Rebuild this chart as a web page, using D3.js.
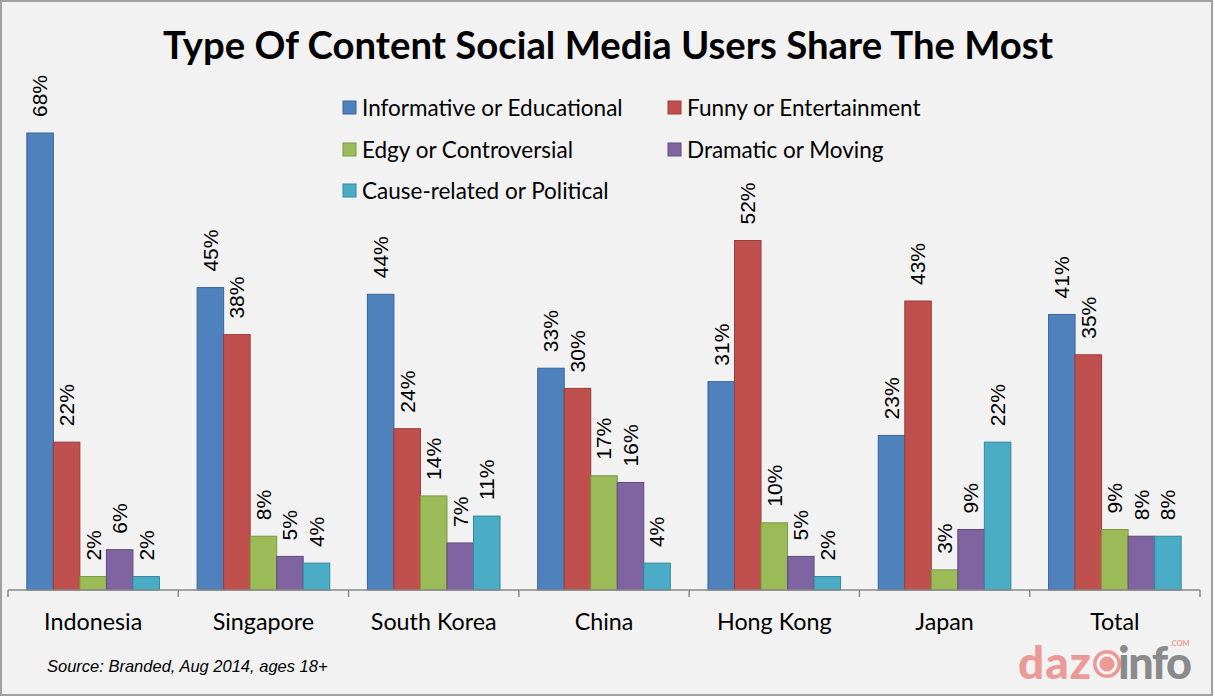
<!DOCTYPE html>
<html><head><meta charset="utf-8">
<script src="https://cdn.jsdelivr.net/npm/d3@7"></script>
<style>body{margin:0;background:#fff;}svg{display:block;}</style>
</head><body>
<svg id="c" width="1215" height="697"></svg>
<script>
const categories = ["Indonesia","Singapore","South Korea","China","Hong Kong","Japan","Total"];
const seriesNames = ["Informative or Educational","Funny or Entertainment","Edgy or Controversial","Dramatic or Moving","Cause-related or Political"];
const informative = [68,45,44,33,31,23,41];
const funny = [22,38,24,30,52,43,35];
const edgy = [2,8,14,17,10,3,9];
const dramatic = [6,5,7,16,5,9,8];
const cause = [2,4,11,4,2,22,8];
const seriesValues = [informative, funny, edgy, dramatic, cause];
const colors = ["#4f81bd","#c0504d","#9bbb59","#8064a2","#4bacc6"];
const strokes = ["#3a6597","#9a3c3a","#7a9a42","#5f4a7d","#35879e"];

const svg = d3.select("#c");
svg.append("rect").attr("x",1).attr("y",1).attr("width",1211).attr("height",694)
  .attr("fill","#f2f2f2").attr("stroke","#a0a0a0").attr("stroke-width",2);

const baseY = 590;
const x0 = d3.scaleBand().domain(categories).range([8,1200]).padding(0);
const x1 = d3.scaleBand().domain(d3.range(5)).range([0,x0.bandwidth()]).paddingInner(0).paddingOuter(0.71);
const y = d3.scaleLinear().domain([0,68]).range([baseY,133]);

// title
svg.append("text").attr("x",608).attr("y",59).attr("text-anchor","middle")
  .attr("font-family","Lato").attr("font-weight","bold").attr("font-size",38.3).attr("fill","#000")
  .text("Type Of Content Social Media Users Share The Most");

// legend
const legPos = [[343,108],[668,108],[343,150],[668,150],[343,191]];
seriesNames.forEach((n,i)=>{
  const g = svg.append("g").attr("transform",`translate(${legPos[i][0]},${legPos[i][1]})`);
  g.append("rect").attr("x",0).attr("y",-7).attr("width",13).attr("height",13)
    .attr("fill",colors[i]).attr("stroke",strokes[i]).attr("stroke-width",1);
  g.append("text").attr("x",19).attr("y",0).attr("dy","0.35em")
    .attr("font-family","Lato").attr("font-size",22.5).attr("fill","#000").text(n);
});

// bars
categories.forEach((c,ci)=>{
  seriesValues.forEach((vals,si)=>{
    const v = vals[ci];
    const bx = x0(c)+x1(si);
    svg.append("rect").attr("x",bx).attr("y",y(v)).attr("width",x1.bandwidth()).attr("height",baseY-y(v))
      .attr("fill",colors[si]).attr("stroke",strokes[si]).attr("stroke-width",1);
    const cx = bx + x1.bandwidth()/2;
    svg.append("text").attr("transform",`translate(${cx},${y(v)-16}) rotate(-90)`)
      .attr("dy","0.35em").attr("font-family","Liberation Sans, Arial").attr("font-size",21)
      .attr("fill","#000").text(v+"%");
  });
});

// axis
const axisG = svg.append("g").attr("transform",`translate(0,${baseY})`);
axisG.append("line").attr("x1",8).attr("x2",1200).attr("stroke","#888").attr("stroke-width",1.5);
const bounds = categories.map(c=>x0(c)).concat([x0.range()[1]]);
axisG.selectAll("line.tk").data(bounds).enter().append("line").attr("class","tk")
  .attr("x1",d=>d).attr("x2",d=>d).attr("y1",0).attr("y2",7).attr("stroke","#888").attr("stroke-width",1.5);
axisG.selectAll("text.cat").data(categories).enter().append("text").attr("class","cat")
  .attr("x",d=>x0(d)+x0.bandwidth()/2).attr("y",40).attr("text-anchor","middle")
  .attr("font-family","Lato").attr("font-size",23.3).attr("fill","#000").text(d=>d);

// source
svg.append("text").attr("x",47).attr("y",672).attr("font-family","Liberation Sans, Arial")
  .attr("font-style","italic").attr("font-size",16.5).attr("fill","#000")
  .text("Source: Branded, Aug 2014, ages 18+");

// logo
const logo = svg.append("g");
logo.append("text").attr("x",1018).attr("y",679).attr("font-family","Lato").attr("font-weight",900)
  .attr("font-size",46).attr("fill","#eb9a98").attr("letter-spacing",1).text("daz");
logo.append("circle").attr("cx",1107).attr("cy",664).attr("r",15).attr("fill","#eb9a98")
  .attr("stroke","#f2f2f2").attr("stroke-width",2);
logo.append("circle").attr("cx",1107).attr("cy",664).attr("r",9).attr("fill","none")
  .attr("stroke","#f2f2f2").attr("stroke-width",3);
logo.append("text").attr("x",1118).attr("y",679).attr("font-family","Lato").attr("font-weight",900)
  .attr("font-size",45).attr("fill","#8a8a8a").attr("letter-spacing",-1.5).text("info");
logo.append("text").attr("x",1170).attr("y",646).attr("font-family","Lato").attr("font-weight",700)
  .attr("font-size",7.5).attr("fill","#eb9a98").text(".COM");
</script>
</body></html>
